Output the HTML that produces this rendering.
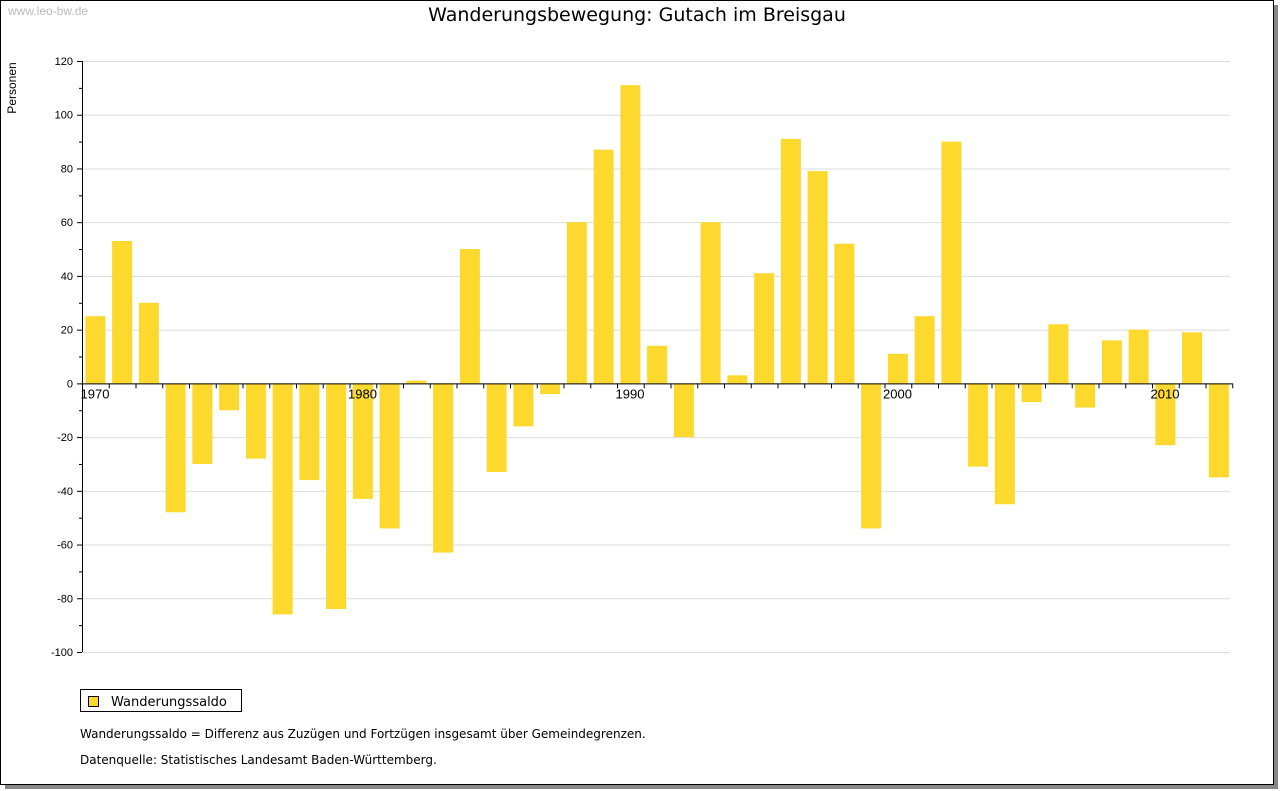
<!DOCTYPE html>
<html><head><meta charset="utf-8"><style>
body{margin:0;background:#fff;font-family:"Liberation Sans","DejaVu Sans",sans-serif}
#wrap{position:relative;width:1280px;height:791px;overflow:hidden;background:#fff}
</style></head><body>
<div id="wrap">
<svg id="svg" width="1280" height="791" xmlns="http://www.w3.org/2000/svg">
<rect x="5" y="5" width="1273" height="784" fill="#888"/>
<rect x="0.5" y="0.5" width="1273" height="784" fill="#fff" stroke="#000"/>
<text x="8" y="15" font-size="12" fill="#bbb">www.leo-bw.de</text>
<text x="637" y="21" font-size="19" text-anchor="middle" font-family="DejaVu Sans, sans-serif">Wanderungsbewegung: Gutach im Breisgau</text>
<text transform="translate(16,88) rotate(-90)" font-size="12" text-anchor="middle">Personen</text>
<g id="grid"></g><g id="bars"></g><g id="axes"></g>
<rect x="80.5" y="689.5" width="161" height="22" fill="#fff" stroke="#000"/>
<rect x="88.5" y="696.5" width="10" height="10" fill="#fdd92d" stroke="#000"/>
<text x="111" y="706" font-size="13" font-family="DejaVu Sans, sans-serif">Wanderungssaldo</text>
<text x="80" y="738" font-size="12" font-family="DejaVu Sans, sans-serif">Wanderungssaldo = Differenz aus Zuzügen und Fortzügen insgesamt über Gemeindegrenzen.</text>
<text x="80" y="764" font-size="12" font-family="DejaVu Sans, sans-serif">Datenquelle: Statistisches Landesamt Baden-Württemberg.</text>
</svg></div>
<script>
const years=[1970,1971,1972,1973,1974,1975,1976,1977,1978,1979,1980,1981,1982,1983,1984,1985,1986,1987,1988,1989,1990,1991,1992,1993,1994,1995,1996,1997,1998,1999,2000,2001,2002,2003,2004,2005,2006,2007,2008,2009,2010,2011,2012];
const saldo=[25,53,30,-48,-30,-10,-28,-86,-36,-84,-43,-54,1,-63,50,-33,-16,-4,60,87,111,14,-20,60,3,41,91,79,52,-54,11,25,90,-31,-45,-7,22,-9,16,20,-23,19,-35];
const yTicks=[120,100,80,60,40,20,0,-20,-40,-60,-80,-100];
const xLabels=[1970,1980,1990,2000,2010];
const NS="http://www.w3.org/2000/svg";
const x0=82,slot=26.75,yMin=-100,yMax=120,yTop=61,yBot=652;
const Y=v=>yBot-(v-yMin)/(yMax-yMin)*(yBot-yTop);
const X=yr=>x0+(yr-years[0])*slot;
function mk(t,a,p){const e=document.createElementNS(NS,t);for(const k in a)e.setAttribute(k,a[k]);document.getElementById(p).appendChild(e);return e;}
yTicks.forEach(v=>{
 const g=mk('line',{x1:x0,x2:1230,y1:Y(v)+.5,y2:Y(v)+.5,stroke:'#ddd'},'grid');
 
 
 const t=mk('text',{x:73,y:Y(v)+4,'font-size':11,'text-anchor':'end'},'axes');t.textContent=v;
 
 
});
for(let v=yMin;v<=yMax;v+=10){const l=mk('line',{x1:x0-(v%20===0?5:3),x2:x0,y1:Y(v)+.5,y2:Y(v)+.5,stroke:'#000'},'axes');
 
 }
years.forEach((yr,i)=>{
 const v=saldo[i],cx=X(yr)+slot/2;
 const r=mk('rect',{x:cx-10,y:Math.min(Y(v),Y(0)),width:20,height:Math.abs(Y(v)-Y(0)),fill:'#fdd92d'},'bars');
 
 
});
for(let i=0;i<=years.length;i++){const l=mk('line',{x1:x0+i*slot+.5,x2:x0+i*slot+.5,y1:Y(0),y2:Y(0)+5,stroke:'#000'},'axes');
 
 }
const ax=mk('line',{x1:x0+.5,x2:x0+.5,y1:yTop,y2:yBot,stroke:'#000'},'axes');


const xa=mk('line',{x1:x0,x2:x0+years.length*slot,y1:Y(0)+.5,y2:Y(0)+.5,stroke:'#000'},'axes');


xLabels.forEach(yr=>{const t=mk('text',{x:X(yr)+13,y:Y(0)+15,'font-size':13,'text-anchor':'middle'},'axes');t.textContent=yr;
 
 });
</script></body></html>
